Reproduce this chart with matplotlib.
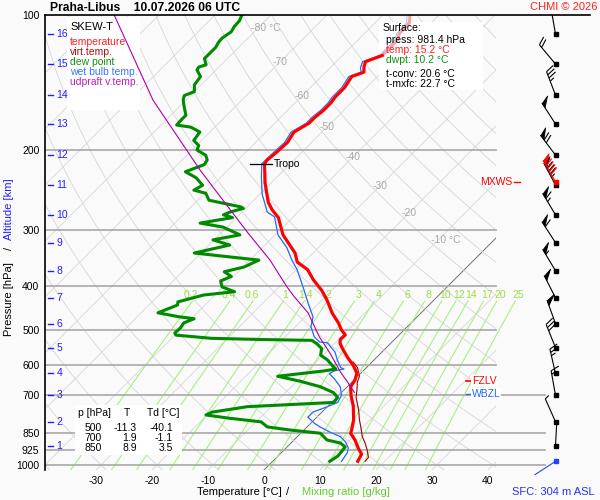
import numpy as np
import matplotlib
matplotlib.use('Agg')
import matplotlib.pyplot as plt
import matplotlib.patches as mpatches
import matplotlib.transforms as mtransforms
from matplotlib.collections import LineCollection, PolyCollection

plt.rcParams['font.family'] = ['Liberation Sans', 'DejaVu Sans']

# ---------------- data ----------------
T_p = [100, 104, 110, 114, 120, 123, 127, 130.5, 134, 137, 145, 152, 157, 163, 169, 174,
       182, 192, 202, 210, 214, 236, 261, 271, 282, 308, 338, 354, 368, 388, 409, 430,
       460, 484, 500, 514, 526, 537, 555, 579, 599, 625, 648, 670, 700, 741, 795, 836,
       850, 880, 917, 946, 970, 981.4]
T_val = [-55.2, -53.9, -53.75, -52.9, -52.9, -52.9, -54.8, -54.1, -53.2, -54.6, -53.9, -53.9,
         -53.6, -53.6, -53.9, -53.9, -55.0, -54.3, -54.5, -54.8, -54.6, -51.1, -47.0, -45.0,
         -42.5, -38.6, -33.2, -31.2, -28.0, -25.1, -21.8, -19.1, -15.8, -12.9, -11.3, -9.6,
         -9.7, -9.0, -7.3, -4.95, -2.9, -0.7, 0.2, 0.6, 2.2, 4.6, 7.1, 8.5, 8.9, 10.9, 12.9,
         14.6, 15.0, 15.2]

Tv_p = [590, 607.5, 635, 655, 681, 708, 755, 794, 823, 865, 893, 925, 962, 981.4]
Tv_val = [-3.4, -1.6, 0.3, 1.0, 2.3, 3.5, 6.2, 8.1, 9.6, 11.6, 13.2, 14.8, 16.4, 16.5]

Td_p = [100, 103, 106, 109, 112.5, 115, 118, 121.5, 125, 129, 130.5, 132.5, 137, 143, 148,
        151, 154.5, 160, 167, 171, 175.6, 177.5, 182, 190, 195, 199.5, 205, 210, 215, 223,
        230, 239, 245, 249, 258, 267, 269, 274, 278, 282, 290, 296, 308, 316, 324.5, 338,
        350.5, 363, 372, 381, 390, 402, 412, 419, 434, 441, 459, 468.5, 473, 483.5, 496,
        509, 514.5, 523, 526, 528.5, 537, 551, 570, 583.5, 603.5, 612, 618, 635, 651, 670,
        690.5, 708, 726, 742, 763, 774, 786, 802, 823, 836, 850, 880, 893.5, 912, 925, 955,
        981.4]
Td_val = [-85.2, -84.6, -84.5, -84.1, -84.6, -84.5, -84.1, -84.1, -84.1, -82.7, -83.6, -83.4,
          -81.6, -81.2, -80.0, -81.1, -80.5, -79.1, -77.3, -77.3, -77.2, -74.3, -71.8, -71.4,
          -69.6, -69.1, -66.6, -65.5, -65.2, -67.3, -64.3, -61.8, -62.5, -59.8, -58.0, -51.1,
          -50.4, -52.1, -52.8, -50.7, -55.5, -50.7, -46.3, -50.2, -46.3, -51.2, -38.4, -39.8,
          -42.5, -40.4, -41.5, -40.2, -37.1, -42.0, -45.4, -44.9, -47.0, -42.5, -39.5, -40.6,
          -40.3, -40.4, -39.8, -32.9, -24.3, -14.6, -13.2, -11.4, -10.4, -8.4, -6.2, -5.2,
          -7.0, -14.3, -9.5, -4.8, -1.4, 0.2, 0.4, -14.3, -19.6, -20.2, -15.9, -9.1, -7.1,
          -2.5, 3.5, 5.9, 8.8, 10.4, 10.5, 10.7, 10.2]

Tw_p = [100, 104, 110, 114, 120, 123, 127, 131, 134, 137, 145, 152, 157, 163, 169, 174,
        182, 192, 202, 214, 229, 250, 274, 281, 308, 329, 350.5, 368.5, 404, 437, 468.5,
        493, 519, 533, 535, 561, 583.5, 607.5, 612, 618, 627, 643, 670, 700, 726, 742, 763,
        783, 808, 823, 845, 865, 888, 916, 939, 981.4]
Tw_val = [-55.7, -54.4, -54.2, -53.4, -53.4, -53.4, -55.3, -54.6, -53.7, -55.1, -54.4, -54.4,
          -54.1, -54.1, -54.4, -54.4, -55.5, -54.8, -55.0, -55.1, -52.8, -49.6, -45.5, -43.3,
          -39.5, -35.6, -32.5, -29.8, -25.5, -21.9, -18.6, -17.2, -14.8, -12.9, -11.4, -8.4,
          -6.6, -4.6, -3.75, -5.2, -5.5, -3.75, -1.25, 0.5, 1.1, 0.0, -1.6, -1.6, 0.7, 2.3,
          5.0, 7.7, 9.5, 11.1, 11.8, 12.3]

Tu_p = [100, 154.5, 221, 258, 305, 350.5, 402, 423, 459, 519, 564, 623, 655, 690]
Tu_val = [-108.0, -85.9, -65.0, -55.5, -45.2, -36.4, -28.6, -25.5, -20.2, -13.9, -9.1, -3.7,
          -0.7, 2.3]

# altitude scale
alt_km = [16, 15, 14, 13, 12, 11, 10, 9, 8, 7, 6, 5, 4, 3, 2, 1]
alt_p = [110.2, 128.5, 150.6, 174.6, 204.8, 238.7, 278, 320.5, 370, 425, 485, 548.5, 626,
         700.5, 801.5, 906.5]

# winds at each km (direction deg, speed kt)
wind_p = alt_p
wind_dir = [350, 320, 339, 327, 323, 332, 329, 327, 329, 333, 340, 338, 347, 350, 336, 3]
wind_spd = [10, 20, 35, 50, 70, 85, 65, 60, 55, 50, 50, 30, 25, 15, 5, 0]
mxws_p, mxws_dir, mxws_spd = 235, 330, 90
sfc_p, sfc_dir, sfc_spd = 981.4, 237, 0

tropo_p, tropo_T = 214, -54.6
fzlv_p, wbzl_p = 649, 694

mix_ratios = [0.2, 0.4, 0.6, 1, 1.4, 2, 3, 4, 6, 8, 10, 12, 14, 17, 20, 25]
mix_labels = ['0.2', '0.4', '0.6', '1', '1.4', '2', '3', '4', '6', '8', '10', '12', '14',
              '17', '20', '25']
iso_lab_T = [-80, -70, -60, -50, -40, -30, -20, -10]
iso_lab_p = [107, 127, 151, 177.5, 207, 240, 275.5, 316]

p_ticks = [100, 200, 300, 400, 500, 600, 700, 850, 925, 1000]
t_ticks = [-30, -20, -10, 0, 10, 20, 30, 40]

table_rows = [('500', '-11.3', '-40.1'), ('700', '1.9', '-1.1'), ('850', '8.9', '3.5')]

# ---------------- geometry ----------------
W, H = 600, 500
K = 450 / 5.6
P_BOT = 100 * 10 ** (455 / 450)


def skx(t, p):
    return np.asarray(t, float) + K * np.log10(P_BOT / np.asarray(p, float))


def px(x):
    return (x - 264) / 5.6


X_L, X_R = px(45), px(600)
X_GRID = px(496)
X_LOW = px(545)
X_TOP = px(590)
X_B = px(555.5)

fig = plt.figure(figsize=(6, 5), dpi=100, facecolor='#fafafa')
ax = fig.add_axes([45 / W, 1 - 470 / H, 555 / W, 455 / H])
ax.set_facecolor('#fafafa')
ax.set_yscale('log')
ax.set_xlim(X_L, X_R)
ax.set_ylim(P_BOT, 100)
ax.yaxis.set_minor_locator(matplotlib.ticker.NullLocator())
ax.set_yticks(p_ticks)
ax.set_yticklabels([str(v) for v in p_ticks])
ax.set_xticks(t_ticks)
ax.set_xticklabels([str(v) for v in t_ticks])
ax.tick_params(axis='both', length=0, labelsize=7.5)
ax.tick_params(axis='y', pad=4)
ax.tick_params(axis='x', pad=4)
for s in ['top', 'right', 'bottom']:
    ax.spines[s].set_visible(False)
ax.spines['left'].set_linewidth(1.2)

clip = mpatches.Rectangle((X_L, 100), X_GRID - X_L, P_BOT - 100, transform=ax.transData)
pp = np.geomspace(100, P_BOT, 200)

# isotherms
for t in range(-170, 50, 10):
    ln, = ax.plot(skx(t, pp), pp, color='#d6d6d6', lw=0.6, zorder=1)
    ln.set_clip_path(clip)
    if t == 0:
        ln.set_color('#707070')
        ln.set_linewidth(0.7)
# dry adiabats
for th in range(-40, 230, 10):
    tt = (th + 273.15) * (pp / 1000.0) ** 0.2857 - 273.15
    ln, = ax.plot(skx(tt, pp), pp, color='#d6d6d6', lw=0.6, zorder=1)
    ln.set_clip_path(clip)

# isobars
for p in p_ticks[1:]:
    xe = X_GRID if p <= 600 else X_LOW
    ax.plot([X_L, xe], [p, p], color='#a8a8a8', lw=1.2, zorder=1.5)
ax.plot([X_L, X_TOP], [100, 100], color='black', lw=1.2, zorder=5, clip_on=False)

# mixing ratio lines
pm = np.geomspace(432, P_BOT, 60)
for w, lab in zip(mix_ratios, mix_labels):
    e = w * pm / (622.0 + w)
    le = np.log(e / 6.112)
    td = 243.5 * le / (17.67 - le)
    ax.plot(skx(td, pm), pm, color='#a8f080', lw=0.8, zorder=1.2)
    e = w * 419 / (622.0 + w)
    le = np.log(e / 6.112)
    td = 243.5 * le / (17.67 - le)
    off = -4 if w < 1 else (-2 if w < 3 else 0)
    ax.annotate(lab, (skx(td, 419), 419), xytext=(off, 0), textcoords='offset points',
                color='#99dd44', fontsize=7.5, ha='center', va='center', zorder=2)

# isotherm labels
for t, p in zip(iso_lab_T, iso_lab_p):
    if t in (-80, -10):
        ax.annotate(f'{t} °C', (skx(t, p), p), xytext=(-5, 0), textcoords='offset points',
                    color='#a8a8a8', fontsize=7.5, ha='left', va='center', zorder=2)
    else:
        ax.text(skx(t, p), p, str(t), color='#a8a8a8', fontsize=7.5, ha='center',
                va='center', zorder=2)


def fx(x):
    return x / W


def fy(y):
    return 1 - y / H


def box(x0, y0, x1, y1):
    r = mpatches.Rectangle((fx(x0), fy(y1)), (x1 - x0) / W, (y1 - y0) / H,
                           transform=fig.transFigure, facecolor='white', edgecolor='none',
                           zorder=2.5)
    ax.add_patch(r)


def ftext(x, y, s, color='black', size=7.5, **kw):
    kw.setdefault('ha', 'left')
    kw.setdefault('va', 'center')
    ax.text(fx(x), fy(y), s, color=color, fontsize=size, transform=fig.transFigure,
            zorder=6, **kw)


box(67, 17, 140, 110)
box(379, 22, 483, 90)
box(75, 405, 182, 455)

# profiles
ax.plot(skx(Tv_val, Tv_p), Tv_p, color='#990000', lw=0.8, zorder=3)
Tw_pa, Tw_va = np.array(Tw_p), np.array(Tw_val)
ax.plot(skx(Tw_va, Tw_pa), Tw_pa, color='#a8bff5', lw=0.8, zorder=3)
mw = Tw_pa >= 123
ax.plot(skx(Tw_va[mw], Tw_pa[mw]), Tw_pa[mw], color='#2266ff', lw=0.8, zorder=3.1)
T_pa, T_va = np.array(T_p), np.array(T_val)
ax.plot(skx(T_va, T_pa), T_pa, color='#f5a5a5', lw=2.2, zorder=3.2)
mt = T_pa >= 123
ax.plot(skx(T_va[mt], T_pa[mt]), T_pa[mt], color='#ff0000', lw=2.2, zorder=3.3,
        solid_joinstyle='round')
ax.plot(skx(Td_val, Td_p), Td_p, color='#008a00', lw=2.2, zorder=3.3, solid_joinstyle='round')
ax.plot(skx(Tu_val, Tu_p), Tu_p, color='#aa00aa', lw=0.8, zorder=3.5)

# tropopause
xt = skx(tropo_T, tropo_p)
ax.plot([xt - 2.6, xt + 1.4], [tropo_p, tropo_p], color='black', lw=0.9, zorder=4)
ax.text(xt + 1.6, tropo_p, 'Tropo', fontsize=7.5, ha='left', va='center', zorder=6)

# altitude scale
for km, p in zip(alt_km, alt_p):
    ax.plot([px(47.5), px(53)], [p, p], color='#2020ff', lw=1.0, zorder=5)
    ax.text(px(56.5), p, str(km), color='#2020ff', fontsize=7.5, ha='left', va='center',
            zorder=6)

# level markers
ax.plot([px(466), px(471)], [fzlv_p, fzlv_p], color='#ff0000', lw=1.2, zorder=5)
ax.text(px(472), fzlv_p, 'FZLV', color='#ff0000', fontsize=7.5, ha='left', va='center',
        zorder=6, bbox=dict(facecolor='white', edgecolor='none', pad=0.5))
ax.plot([px(466), px(471)], [wbzl_p, wbzl_p], color='#2266ff', lw=1.0, zorder=5)
ax.text(px(472), wbzl_p, 'WBZL', color='#2266ff', fontsize=7.5, ha='left', va='center',
        zorder=6, bbox=dict(facecolor='white', edgecolor='none', pad=0.5))
ax.plot([px(514), px(520)], [mxws_p, mxws_p], color='#ff0000', lw=1.0, zorder=5)
ax.text(px(512), mxws_p, 'MXWS', color='#ff0000', fontsize=7.5, ha='right', va='center',
        zorder=6)

# wind barbs (drawn in display pixels from the data position)
IDT = mtransforms.IdentityTransform()


def draw_barb(p, direction, speed, color, z=4, clip_on=True):
    base = ax.transData.transform((X_B, p))
    a = np.deg2rad(direction)
    s = np.array([np.sin(a), np.cos(a)])
    r = np.deg2rad(-68)
    f = np.array([[np.cos(r), -np.sin(r)], [np.sin(r), np.cos(r)]]) @ s
    L, F, SP, FW = 25.0, 9.0, 3.4, 5.0
    segs = [[base, base + L * s]]
    polys = []
    pos = L
    nflag = int(speed // 50)
    rem = speed - 50 * nflag
    nfull = int(rem // 10)
    half = (rem - 10 * nfull) >= 5
    for _ in range(nflag):
        a0 = base + pos * s
        a1 = base + (pos - FW) * s
        polys.append([a0, a0 + F * f, a1])
        pos -= FW + 1.2
    for _ in range(nfull):
        a0 = base + pos * s
        segs.append([a0, a0 + F * f])
        pos -= SP
    if half:
        a0 = base + pos * s
        segs.append([a0, a0 + 0.55 * F * f])
    lc = LineCollection(segs, colors=color, linewidths=0.8, transform=IDT, zorder=z)
    ax.add_collection(lc)
    lc.set_clip_on(clip_on)
    if polys:
        pc = PolyCollection(polys, facecolors=color, edgecolors=color, linewidths=0.6,
                            transform=IDT, zorder=z)
        ax.add_collection(pc)
        pc.set_clip_on(clip_on)


for p, dr, sp in zip(wind_p, wind_dir, wind_spd):
    draw_barb(p, dr, sp, 'black')
draw_barb(mxws_p, mxws_dir, mxws_spd, '#ff0000', z=4.2)
draw_barb(sfc_p, sfc_dir, sfc_spd, '#2244ff', z=4.2, clip_on=False)
ax.plot(np.full(len(alt_p), X_B), alt_p, 's', color='black', ms=2.2, zorder=5)
ax.plot([X_B], [mxws_p], 's', color='#ff0000', ms=2.2, zorder=5.1)
ax.plot([X_B], [sfc_p], 's', color='#2244ff', ms=2.2, zorder=5.1, clip_on=False)

# legend box
ftext(70, 26.5, 'SKEW-T', size=8)
for i, (s, c) in enumerate([('temperature', '#ff2020'), ('virt.temp.', '#aa1010'),
                            ('dew point', '#109010'), ('wet bulb temp.', '#3377ff'),
                            ('udpraft v.temp.', '#bb22bb')]):
    ftext(70, 42 + 10 * i, s, color=c)

# surface box
ftext(383, 28, 'Surface:')
ftext(386, 40, 'press: 981.4 hPa')
ftext(386, 50, 'temp: 15.2 °C', color='#ff2020')
ftext(386, 60, 'dwpt: 10.2 °C', color='#109010')
ftext(386, 74, 't-conv: 20.6 °C')
ftext(386, 84, 't-mxfc: 22.7 °C')

# table
ftext(78, 413, 'p [hPa]')
ftext(127, 413, 'T', ha='center')
ftext(147, 413, 'Td [°C]')
for i, (a, b, c) in enumerate(table_rows):
    y = 428 + 10 * i
    ftext(102, y, a, ha='right')
    ftext(137, y, b, ha='right')
    ftext(173, y, c, ha='right')

# titles and axis labels
ftext(50, 8, 'Praha-Libus    10.07.2026 06 UTC', size=8.7, fontweight='bold')
ftext(597, 7, 'CHMI © 2026', color='#ff2020', size=8, ha='right')
ftext(197, 492, 'Temperature [°C]', size=8)
ftext(286, 492, '/', size=8)
ftext(302, 492, 'Mixing ratio [g/kg]', color='#66cc33', size=8)
ftext(512, 492, 'SFC: 304 m ASL', color='#2233ee', size=8)
ftext(9, 336, 'Pressure [hPa]', size=8, rotation=90, ha='center', va='bottom')
ftext(9, 248, '/', size=8, rotation=90, ha='center')
ftext(9, 240, 'Altitude [km]', color='#2020ff', size=8, rotation=90, ha='center',
      va='bottom')

fig.savefig('out.png', dpi=100, facecolor=fig.get_facecolor())
